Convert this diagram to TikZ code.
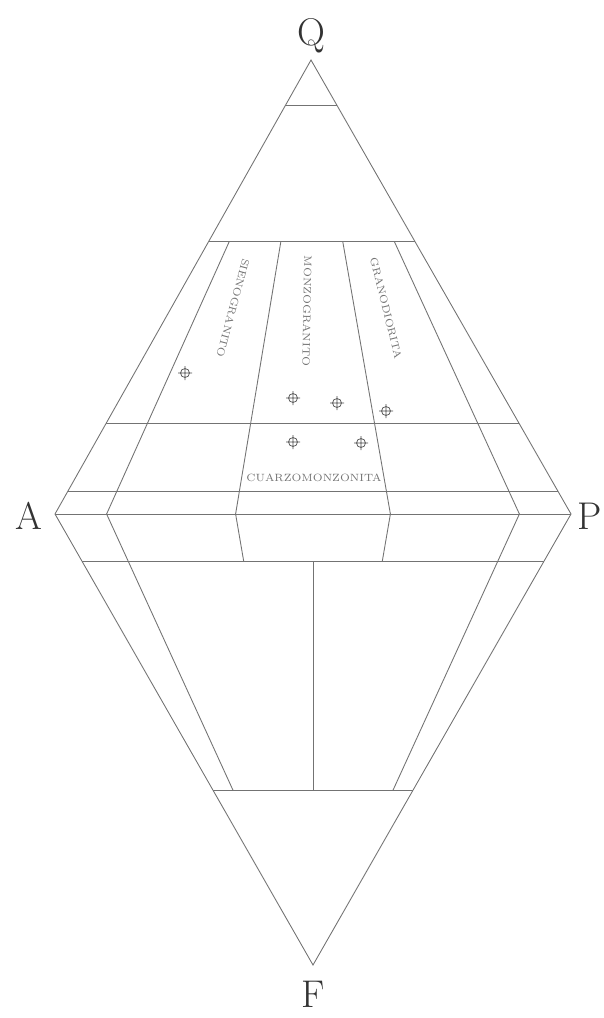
\documentclass[tikz,border=0pt]{standalone}
\usetikzlibrary{calc}

\tikzset{
  campo/.style={draw=black!55, line width=0.5pt},
  vertice/.style={font=\fontsize{22}{24}\selectfont, text=black!80, inner sep=0pt},
  roca/.style={font=\fontsize{6}{7}\selectfont, text=black!55, inner sep=0pt},
  muestra/.pic={\draw[black!70, line width=0.4pt] (0,0) circle (0.09cm)
    (-0.14cm,0) -- (0.14cm,0) (0,-0.14cm) -- (0,0.14cm);}
}

\begin{document}
\begin{tikzpicture}[x=0.02cm,y=-0.02cm]
  \useasboundingbox (0,0) rectangle (604,1018);

  % vertices del doble triangulo
  \coordinate (Q) at (311,60);
  \coordinate (A) at (55,514);
  \coordinate (P) at (571,514);
  \coordinate (F) at (313,965);
  \node[vertice] (lQ) at (311,36) {Q};
  \node[vertice] (lA) at (29,516) {A};
  \node[vertice] (lP) at (590,516) {P};
  \node[vertice] (lF) at (313,994) {F};

  % puntos sobre A-P
  \foreach \f/\n in {0.1/b1,0.35/b2,0.5/b3,0.65/b4,0.9/b5}
    \coordinate (\n) at ($(A)!\f!(P)$);

  \draw[campo] (Q) -- (A) -- (F) -- (P) -- cycle;
  \draw[campo] (A) -- (P);

  % lineas horizontales
  \foreach \t in {0.1,0.4,0.8,0.95}
    \draw[campo] ($(Q)!\t!(A)$) -- ($(Q)!\t!(P)$);
  \foreach \t in {0.106,0.612}
    \draw[campo] ($(A)!\t!(F)$) -- ($(P)!\t!(F)$);

  % lineas radiales
  \foreach \n in {b1,b2,b4,b5}
    \draw[campo] ($(Q)!0.4!(\n)$) -- (\n);
  \foreach \n in {b1,b5}
    \draw[campo] (\n) -- ($(\n)!0.612!(F)$);
  \foreach \n in {b2,b4}
    \draw[campo] (\n) -- ($(\n)!0.106!(F)$);
  \draw[campo] ($(b3)!0.106!(F)$) -- ($(b3)!0.612!(F)$);

  % nombres de campos
  \node[roca, rotate=-105] (sieno) at (233,308) {SIENOGRANITO};
  \node[roca, rotate=-91] (monzo) at (307,311) {MONZOGRANITO};
  \node[roca, rotate=-76] (grano) at (386,308) {GRANODIORITA};
  \node[roca] (cuarzo) at (314,478) {CUARZOMONZONITA};

  % muestras
  \foreach \p [count=\i] in {(185,373),(293,398),(337,403),(386,411),(293,442),(361,443)}
    \pic (m\i) at \p {muestra};
\end{tikzpicture}
\end{document}
